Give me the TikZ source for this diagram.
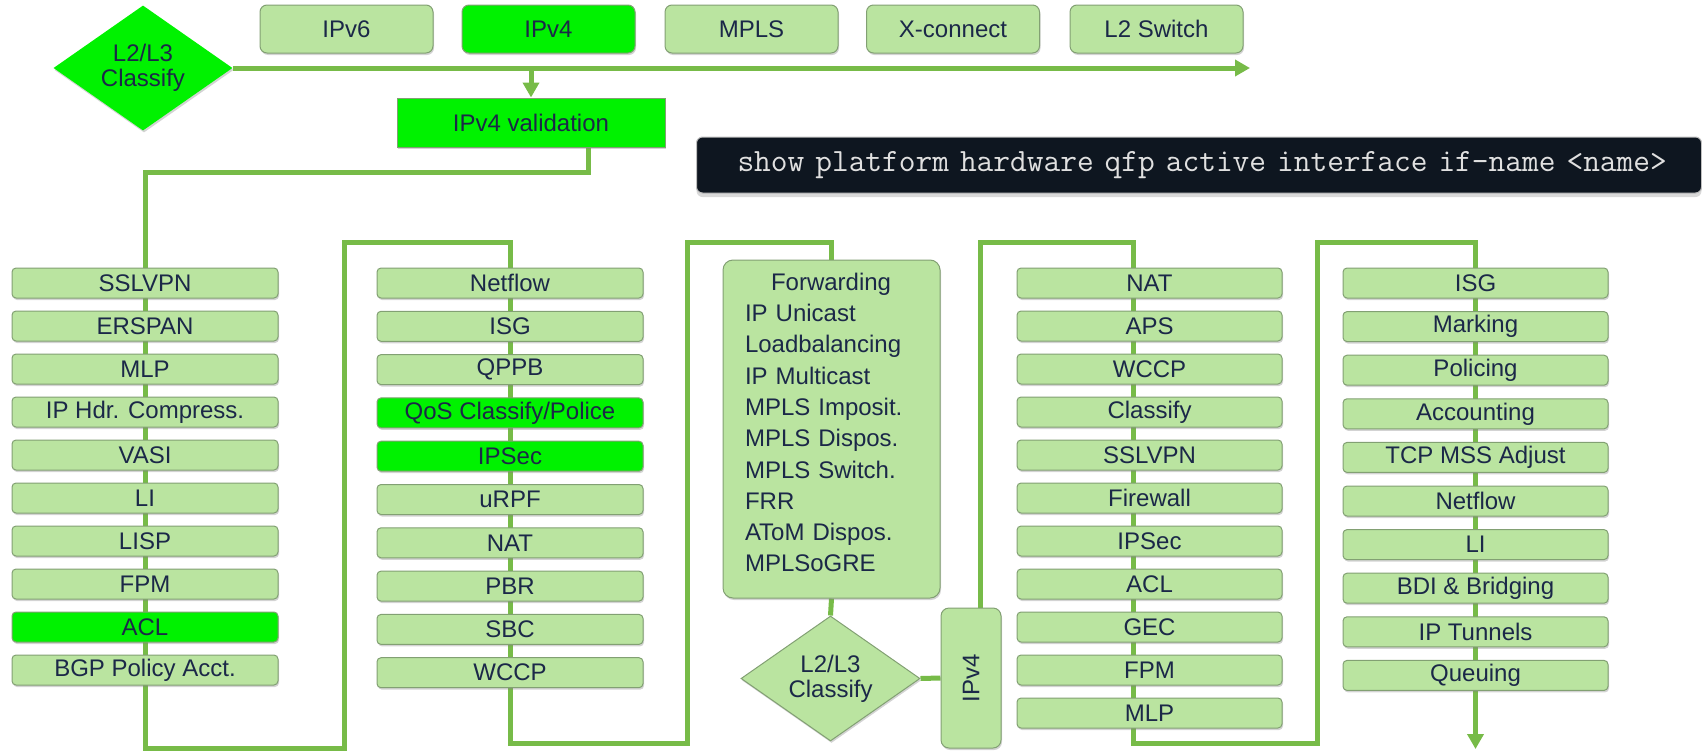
\documentclass[tikz,border=0pt]{standalone}
\usepackage{fontspec}
\setmainfont{Liberation Sans}
\usetikzlibrary{shapes.geometric,arrows.meta,shadows,backgrounds}
\definecolor{lg}{RGB}{186,228,160}
\definecolor{bg}{RGB}{0,242,0}
\definecolor{ln}{RGB}{119,187,72}
\definecolor{edge}{RGB}{130,160,115}
\definecolor{navy}{RGB}{27,40,72}
\definecolor{cmdbg}{RGB}{14,22,32}
\begin{document}
\begin{tikzpicture}[x=1pt,y=-1pt,
  font=\fontsize{24}{28}\selectfont,
  every node/.style={text=navy, inner sep=0pt},
  shad/.style={drop shadow={shadow xshift=1pt, shadow yshift=-2pt, opacity=0.35}},
  bx/.style={rectangle, rounded corners=4pt, fill=lg, draw=edge, line width=1pt, shad},
  rowbox/.style={bx, minimum width=266pt, minimum height=30pt},
  topbox/.style={bx, rounded corners=7pt, minimum width=173pt, minimum height=48pt},
  hot/.style={fill=bg},
  cold/.style={},
  dia/.style={diamond, aspect=1.4, minimum width=179pt, minimum height=125pt, align=center, font=\fontsize{24}{25}\selectfont, shad},
  conn/.style={draw=ln, line width=5pt},
  tip/.style={-{Triangle[length=15pt,width=16pt]}},
]
\useasboundingbox (0,0) rectangle (1702,750);

% top row
\node[dia, fill=bg] (d1) at (143,68) {L2/L3\\Classify};
\node[topbox] (t1) at (346.5,29) {IPv6};
\node[topbox,hot] (t2) at (548.5,29) {IPv4};
\node[topbox] (t3) at (751.5,29) {MPLS};
\node[topbox] (t4) at (953,29) {X-connect};
\node[topbox] (t5) at (1156.5,29) {L2 Switch};
\node[bx, hot, rounded corners=0pt, minimum width=268pt, minimum height=49pt] (val) at (531,122.5) {IPv4 validation};

% command
\node[anchor=west, fill=cmdbg, draw=white!75!black, line width=1pt, rounded corners=6pt,
  minimum height=56pt, text width=965pt, inner xsep=20pt, align=left, text=white!88!black,
  font=\ttfamily\fontsize{32.5}{33}\selectfont,
  drop shadow={shadow xshift=0pt, shadow yshift=-4pt, opacity=0.3}] (cmd) at (696,165)
  {\hspace*{21pt}show platform hardware qfp active interface if-name <name>};

% column 1
\foreach \t/\s [count=\i] in {SSLVPN/cold, ERSPAN/cold, MLP/cold, {IP Hdr. Compress.}/cold, VASI/cold, LI/cold, LISP/cold, FPM/cold, ACL/hot, {BGP Policy Acct.}/cold}
  \node[rowbox,\s] (c1-\i) at ({145},{283+43*(\i-1)}) {\t};
% column 2
\foreach \t/\s [count=\i] in {Netflow/cold, ISG/cold, QPPB/cold, {QoS Classify/Police}/hot, IPSec/hot, uRPF/cold, NAT/cold, PBR/cold, SBC/cold, WCCP/cold}
  \node[rowbox,\s] (c2-\i) at ({510},{283+43.3*(\i-1)}) {\t};
% column 4
\foreach \t [count=\i] in {NAT, APS, WCCP, Classify, SSLVPN, Firewall, IPSec, ACL, GEC, FPM, MLP}
  \node[rowbox, minimum width=265pt] (c4-\i) at ({1149.5},{283+43*(\i-1)}) {\t};
% column 5
\foreach \t [count=\i] in {ISG, Marking, Policing, Accounting, TCP MSS Adjust, Netflow, LI, {BDI \& Bridging}, IP Tunnels, Queuing}
  \node[rowbox, minimum width=265pt] (c5-\i) at ({1475.5},{283+43.6*(\i-1)}) {\t};

% forwarding
\node[bx, rounded corners=10pt, minimum width=217pt, minimum height=338pt, text width=173pt, align=left,
  font=\fontsize{24}{31.3}\selectfont] (fw) at (831.5,429)
  {\hspace*{26pt}Forwarding\\IP Unicast\\Loadbalancing\\IP Multicast\\MPLS Imposit.\\MPLS Dispos.\\MPLS Switch.\\FRR\\AToM Dispos.\\MPLSoGRE\par\vspace*{13pt}};
\node[dia, fill=lg, draw=edge, line width=1pt] (d2) at (830.5,678.5) {L2/L3\\Classify};
\node[bx, rounded corners=8pt, minimum width=60pt, minimum height=140pt] (v4) at (971,678) {\rotatebox{90}{IPv4}};

% coordinates
\coordinate (hend) at (1250,68);
\coordinate (vin) at (531,68);
\coordinate (vout) at (588,147);
\coordinate (vturn) at (588,172);
\coordinate (b1) at (344,748);
\coordinate (tp1) at (344,242);
\coordinate (b2) at (687,743);
\coordinate (tp2) at (687,242);
\coordinate (v4out) at (980,608);
\coordinate (tp3) at (980,242);
\coordinate (c4in) at (1133,268);
\coordinate (b4) at (1133,743);
\coordinate (b5) at (1317,743);
\coordinate (tp5) at (1317,242);
\coordinate (qend) at (1475.5,749);

\begin{scope}[on background layer]
\draw[conn,tip] (d1.east) -- (hend);
\draw[conn,tip] (vin) -- (val.north);
\draw[conn] (vout) -- (vturn) -| (c1-1.north);
\draw[conn] (c1-1.north) -- (c1-10.south) |- (b1) -- (tp1) -| (c2-1.north);
\draw[conn] (c2-1.north) -- (c2-10.south) |- (b2) -- (tp2) -| (fw.north);
\draw[conn] (fw.south) -- (d2.north);
\draw[conn] (d2.east) -- (v4.west);
\draw[conn] (v4out) -- (tp3) -| (c4in);
\draw[conn] (c4in) -- (b4) -- (b5) -- (tp5) -| (c5-1.north);
\draw[conn,tip] (c5-1.north) -- (qend);
\end{scope}
\end{tikzpicture}
\end{document}
